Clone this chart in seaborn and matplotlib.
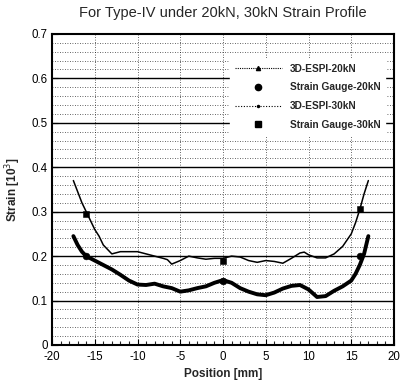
import matplotlib
matplotlib.use("Agg")
import matplotlib.pyplot as plt
import seaborn as sns
import pandas as pd
import numpy as np
from matplotlib.ticker import MultipleLocator
from matplotlib.lines import Line2D

# ---- data ----
espi20_x = [-17.5, -17, -16.5, -16, -15, -14, -13, -12, -11, -10, -9, -8, -7, -6, -5, -4, -3,
            -2, -1, 0, 1, 2, 3, 4, 5, 6, 7, 8, 9, 10, 11, 12, 13, 14, 15, 15.5, 16, 16.5, 17]
espi20_y = [0.245, 0.225, 0.21, 0.2, 0.19, 0.18, 0.17, 0.158, 0.145, 0.136, 0.135, 0.138, 0.132,
            0.128, 0.12, 0.123, 0.128, 0.132, 0.14, 0.146, 0.14, 0.128, 0.12, 0.114, 0.112, 0.118,
            0.127, 0.133, 0.135, 0.125, 0.108, 0.11, 0.122, 0.132, 0.145, 0.16, 0.18, 0.205, 0.245]

espi30_x = [-17.5, -17, -16.5, -16, -15, -14.5, -14, -13, -12, -11, -10, -9, -8, -7, -6.5, -6,
            -5, -4, -3, -2, -1, 0, 1, 2, 3, 4, 5, 6, 7, 8, 9, 9.5, 10, 11, 12, 13, 14, 15, 15.5,
            16, 16.5, 17]
espi30_y = [0.37, 0.345, 0.32, 0.3, 0.26, 0.245, 0.225, 0.205, 0.21, 0.21, 0.21, 0.205, 0.2,
            0.195, 0.192, 0.182, 0.19, 0.2, 0.196, 0.193, 0.195, 0.195, 0.2, 0.198, 0.19, 0.186,
            0.19, 0.188, 0.184, 0.195, 0.207, 0.209, 0.203, 0.196, 0.196, 0.205, 0.222, 0.25,
            0.275, 0.305, 0.34, 0.37]

gauge20_x = [-16, 0, 16]
gauge20_y = [0.2, 0.145, 0.2]
gauge30_x = [-16, 0, 16]
gauge30_y = [0.295, 0.19, 0.305]

title = "For Type-IV under 20kN, 30kN Strain Profile"
legend_labels = ["3D-ESPI-20kN", "Strain Gauge-20kN", "3D-ESPI-30kN", "Strain Gauge-30kN"]
x_ticks = [-20, -15, -10, -5, 0, 5, 10, 15, 20]
y_ticks = [0, 0.1, 0.2, 0.3, 0.4, 0.5, 0.6, 0.7]
y_ticklabels = ["0", "0.1", "0.2", "0.3", "0.4", "0.5", "0.6", "0.7"]

# ---- plotting ----
sns.set_theme(style="white")
plt.rcParams['font.family'] = ['Liberation Sans', 'DejaVu Sans']

fig = plt.figure(figsize=(4.0, 3.81), dpi=100)
ax = fig.add_axes([0.13, 0.0945, 0.855, 0.8165])

df20 = pd.DataFrame({"x": espi20_x, "y": espi20_y})
df30 = pd.DataFrame({"x": espi30_x, "y": espi30_y})
sns.lineplot(data=df20, x="x", y="y", ax=ax, color="black", lw=2.8, sort=False,
             label=legend_labels[0], zorder=3)
sns.lineplot(data=df30, x="x", y="y", ax=ax, color="black", lw=1.1, sort=False,
             label=legend_labels[2], zorder=3)
sns.scatterplot(x=gauge20_x, y=gauge20_y, ax=ax, color="black", marker="o", s=24,
                label=legend_labels[1], zorder=4, edgecolor="black")
sns.scatterplot(x=gauge30_x, y=gauge30_y, ax=ax, color="black", marker="s", s=24,
                label=legend_labels[3], zorder=4, edgecolor="black")

ax.set_xlim(-20, 20)
ax.set_ylim(0, 0.7)

# grid
for k in range(1, 35):
    yv = k * 0.02
    if k % 5 == 0:
        ax.axhline(yv, color="black", lw=1.0, zorder=1)
    else:
        ax.axhline(yv, color="black", lw=0.6, ls=(0, (1, 2)), alpha=0.8, zorder=1)
for xv in x_ticks[1:-1]:
    ax.axvline(xv, color="black", lw=0.6, ls=(0, (1, 2)), alpha=0.8, zorder=1)

handles = [
    Line2D([], [], color="black", lw=0.8, ls=(0, (1, 1)), marker="^", ms=3),
    Line2D([], [], color="black", lw=0, marker="o", ms=4.5),
    Line2D([], [], color="black", lw=0.8, ls=(0, (1, 1.5)), marker=".", ms=3),
    Line2D([], [], color="black", lw=0, marker="s", ms=4),
]
leg = ax.legend(handles, legend_labels, loc="upper left", bbox_to_anchor=(0.52, 0.92),
                borderaxespad=0, frameon=True, handlelength=4.6, handletextpad=0.8,
                labelspacing=0.85, borderpad=0.5, prop={"weight": "bold", "size": 7.3})
leg.get_frame().set_facecolor("white")
leg.get_frame().set_edgecolor("white")
leg.get_frame().set_alpha(1)
leg.get_frame().set_boxstyle("square", pad=0)
leg.set_zorder(5)

ax.set_xticks(x_ticks)
ax.set_xticklabels([str(v) for v in x_ticks])
ax.xaxis.set_minor_locator(MultipleLocator(1))
ax.set_yticks(y_ticks)
ax.set_yticklabels(y_ticklabels)
ax.tick_params(axis="both", which="major", direction="in", length=4, width=0.8,
               labelsize=8.3, colors="black", bottom=True, left=True)
ax.tick_params(axis="x", which="major", pad=4)
ax.tick_params(axis="y", which="major", pad=3)
ax.tick_params(axis="x", which="minor", direction="in", length=3, width=0.8, bottom=True)
for sp in ax.spines.values():
    sp.set_color("black")
    sp.set_linewidth(1.5)

ax.set_xlabel("Position [mm]", fontsize=8.5, fontweight="bold", labelpad=4)
ax.set_ylabel("Strain [10$^3$]", fontsize=8.5, fontweight="bold", labelpad=6)
ax.set_title(title, fontsize=10.5, pad=12)

fig.savefig("out.png", dpi=100)
